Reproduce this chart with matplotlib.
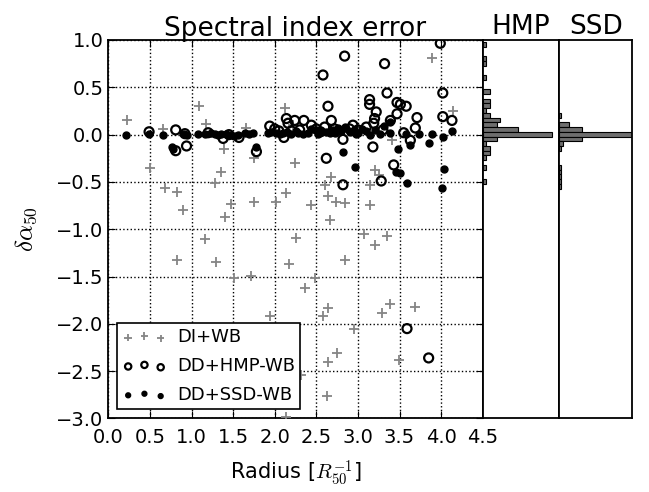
import matplotlib
matplotlib.use('Agg')
import matplotlib.pyplot as plt
import numpy as np

plt.rcParams['mathtext.fontset'] = 'cm'
plt.rcParams['xtick.direction'] = 'in'
plt.rcParams['ytick.direction'] = 'in'

# DI+WB (grey crosses)
di_x = [0.23, 1.09, 1.17, 0.66, 0.50, 0.68, 0.82, 0.90, 1.39, 1.35, 1.28, 1.48, 1.40, 1.75, 1.75, 2.02,
        2.12, 2.22, 2.14, 2.24, 2.44, 2.60, 2.68, 2.64, 2.66, 2.74, 2.84, 3.15, 3.15, 3.21, 3.25, 3.41,
        3.89, 4.14, 1.16, 0.82, 1.29, 1.51, 1.72, 2.25, 2.17, 2.49, 2.36, 2.84, 3.07, 3.20, 3.35, 2.64,
        2.58, 1.94, 2.95, 3.29, 3.39, 3.69, 2.75, 2.64, 3.49, 2.31, 2.63, 2.14, 1.66]
di_y = [0.15, 0.30, 0.11, 0.06, -0.35, -0.56, -0.61, -0.80, -0.15, -0.40, -0.51, -0.73, -0.87, -0.25, -0.71, -0.71,
        0.28, 0.10, -0.62, -0.30, -0.74, -0.53, -0.45, -0.65, -0.90, -0.71, -0.72, -0.53, -0.74, -0.37, -0.43, -0.06,
        0.81, 0.25, -1.10, -1.32, -1.35, -1.51, -1.49, -1.09, -1.37, -1.51, -1.62, -1.32, -1.05, -1.17, -1.07, -1.83,
        -1.92, -1.92, -2.05, -1.89, -1.79, -1.82, -2.31, -2.40, -2.38, -2.54, -2.76, -2.98, 0.07]

# DD+HMP-WB (open circles)
hmp_x = [0.49, 0.81, 0.81, 0.94, 0.92, 1.38, 1.57, 1.78, 1.94, 2.14, 2.11, 2.16, 2.24, 2.35, 2.44, 2.58,
         2.64, 2.62, 2.68, 2.84, 2.82, 2.82, 2.94, 3.14, 3.14, 3.18, 3.22, 3.20, 3.28, 3.32, 3.35, 3.39,
         3.43, 3.47, 3.47, 3.51, 3.58, 3.63, 3.69, 3.71, 3.99, 4.02, 4.02, 4.13, 3.59, 3.85, 3.19,
         1.20, 1.45, 2.00, 2.05, 2.30, 2.50, 2.60, 2.72, 2.90, 3.00, 2.55, 2.20, 3.10, 3.30, 3.55]
hmp_y = [0.03, 0.05, -0.17, -0.12, 0.01, -0.04, -0.03, -0.18, 0.09, 0.17, -0.03, 0.12, 0.15, 0.15, 0.10, 0.63,
         0.30, -0.25, 0.15, 0.83, -0.53, -0.05, 0.10, 0.37, 0.32, -0.13, 0.24, 0.17, -0.49, 0.75, 0.44, 0.15,
         -0.32, 0.22, 0.34, 0.32, 0.30, -0.06, 0.07, 0.18, 0.965, 0.44, 0.19, 0.15, -2.05, -2.36, 0.12,
         0.02, 0.00, 0.06, 0.04, 0.05, 0.06, 0.08, 0.06, 0.06, 0.05, 0.03, 0.04, 0.08, 0.05, 0.02]

# DD+SSD-WB (filled dots)
ssd_x = [0.21, 0.49, 0.66, 0.76, 0.78, 0.91, 0.94, 1.08, 1.16, 1.28, 1.32, 1.36, 1.41, 1.46, 1.51, 1.64,
         1.69, 1.74, 1.78, 1.92, 1.96, 2.02, 2.06, 2.10, 2.15, 2.20, 2.28, 2.34, 2.44, 2.50, 2.56, 2.62,
         2.70, 2.76, 2.84, 2.90, 2.98, 3.05, 2.82, 2.97, 3.15, 3.27, 3.31, 3.38, 3.38, 3.48, 3.46, 3.50,
         3.58, 3.62, 3.59, 3.73, 3.85, 3.89, 4.02, 4.03, 4.01, 4.13,
         2.40, 2.66, 2.80, 2.95, 3.10, 3.20, 1.24, 1.56, 2.26, 2.52, 2.72, 3.00]
ssd_y = [0.00, 0.01, 0.00, -0.13, -0.15, 0.01, 0.00, 0.01, 0.01, 0.01, 0.00, 0.01, 0.01, 0.00, -0.01, 0.02,
         0.01, 0.02, -0.13, 0.02, 0.03, 0.02, 0.01, 0.02, 0.03, 0.01, 0.02, 0.01, 0.06, 0.05, 0.03, 0.03,
         0.05, 0.07, 0.08, 0.03, 0.01, 0.06, -0.18, -0.34, 0.00, 0.01, 0.09, 0.02, 0.13, -0.15, -0.39, -0.41,
         0.01, -0.11, -0.51, 0.01, -0.09, 0.01, -0.03, -0.36, -0.56, 0.04,
         0.02, 0.02, 0.04, 0.05, 0.04, 0.05, 0.02, 0.00, 0.04, 0.01, 0.02, 0.02]

# histogram bins (lower edges, width 0.05) and counts
bin_w = 0.05
hmp_bins = [0.93, 0.78, 0.73, 0.58, 0.43, 0.33, 0.28, 0.23, 0.18, 0.13, 0.08, 0.03, -0.02, -0.07,
            -0.12, -0.17, -0.22, -0.27, -0.37, -0.52]
hmp_counts = [1, 1, 1, 1, 2, 2, 2, 1, 2, 5, 4, 10, 20, 4, 1, 2, 2, 1, 1, 1]
ssd_bins = [0.18, 0.08, 0.03, -0.02, -0.07, -0.12, -0.17, -0.37, -0.42, -0.47, -0.52, -0.57]
ssd_counts = [1, 5, 11, 50, 11, 2, 1, 1, 1, 1, 1, 1]

fmt = matplotlib.ticker.FuncFormatter(lambda v, p: ('%.1f' % v).replace('-', '\u2212'))

fig = plt.figure(figsize=(6.49, 4.92), dpi=100)
ax = fig.add_axes([0.1669, 0.1494, 0.5769, 0.7693])
axh = fig.add_axes([0.7438, 0.1494, 0.1180, 0.7693], sharey=ax)
axs = fig.add_axes([0.8618, 0.1494, 0.1125, 0.7693], sharey=ax)

ax.scatter(di_x, di_y, marker='+', s=60, color='#858585', linewidths=1.3, label='DI+WB', zorder=3)
ax.scatter(hmp_x, hmp_y, marker='o', s=42, facecolors='none', edgecolors='black', linewidths=1.6,
           label='DD+HMP-WB', zorder=3)
ax.scatter(ssd_x, ssd_y, marker='o', s=25, color='black', label='DD+SSD-WB', zorder=3)

ax.set_xlim(0, 4.5)
ax.set_ylim(-3, 1)
ax.set_xticks(np.arange(0, 4.51, 0.5))
ax.set_yticks(np.arange(-3, 1.01, 0.5))
ax.xaxis.set_major_formatter(fmt)
ax.yaxis.set_major_formatter(fmt)
ax.tick_params(labelsize=14, top=True, right=True, length=5, width=0.8)
ax.tick_params(axis='x', pad=7)
ax.grid(True, linestyle=':', color='black', linewidth=1)
ax.set_xlabel('Radius [$R_{50}^{-1}$]', fontsize=15, labelpad=8)
ax.set_ylabel(r'$\delta\alpha_{50}$', fontsize=18, labelpad=12)
ax.set_title('Spectral index error', fontsize=19, pad=3)
leg = ax.legend(loc='lower left', fontsize=13, scatterpoints=3, scatteryoffsets=[0.375, 0.5, 0.3125],
                fancybox=False, framealpha=1, edgecolor='black', borderaxespad=0.5, handletextpad=0.6,
                handlelength=2.4, labelspacing=0.6, borderpad=0.3, markerscale=0.7)
leg.get_frame().set_linewidth(1.2)

axh.barh(hmp_bins, hmp_counts, height=bin_w, align='edge', color='#6e6e6e', edgecolor='black', linewidth=0.8)
axh.set_xlim(0, 22)
axh.set_title('HMP', fontsize=19, pad=3)
axs.barh(ssd_bins, ssd_counts, height=bin_w, align='edge', color='#6e6e6e', edgecolor='black', linewidth=0.8)
axs.set_xlim(0, 36)
axs.set_title('SSD', fontsize=19, pad=3)

for a in (axh, axs):
    a.tick_params(left=False, bottom=False, labelleft=False, labelbottom=False)
for a in (ax, axh, axs):
    for sp in a.spines.values():
        sp.set_linewidth(1.3)

fig.savefig('out.png', dpi=100)
